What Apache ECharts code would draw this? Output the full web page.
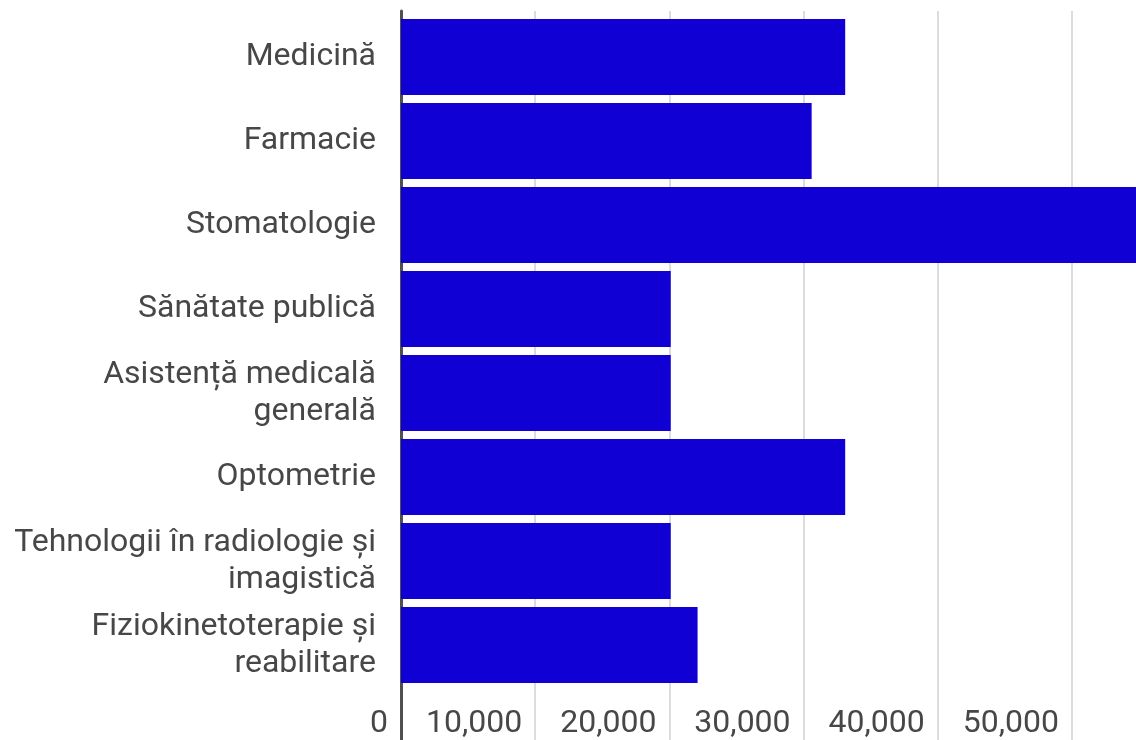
<!DOCTYPE html>
<html>
<head>
<meta charset="utf-8">
<script src="https://cdn.jsdelivr.net/npm/echarts@6/dist/echarts.min.js"></script>
<style>
  html, body { margin: 0; padding: 0; background: #fff; }
  #chart { width: 1136px; height: 740px; }
</style>
</head>
<body>
<div id="chart"></div>
<script>
// date
var categories = [
  'Medicină',
  'Farmacie',
  'Stomatologie',
  'Sănătate publică',
  'Asistență medicală generală',
  'Optometrie',
  'Tehnologii în radiologie și imagistică',
  'Fiziokinetoterapie și reabilitare'
];
var values = [33100, 30600, 58000, 20100, 20100, 33100, 20100, 22100];
var axisMax = 54770; // marginea din dreapta a imaginii
var tickStep = 10000;

var textColor = '#474747';
var labelFont = '32px Roboto';

// imparte eticheta pe randuri, fara spatii la capat
var ctx = document.createElement('canvas').getContext('2d');
ctx.font = labelFont;
function wrapLabel(text, maxW) {
  var words = text.split(' '), lines = [], cur = '';
  words.forEach(function (w) {
    var test = cur ? cur + ' ' + w : w;
    if (cur && ctx.measureText(test).width > maxW) {
      lines.push(cur);
      cur = w;
    } else {
      cur = test;
    }
  });
  if (cur) lines.push(cur);
  return lines.join('\n');
}

var chart = echarts.init(document.getElementById('chart'));

var option = {
  animation: false,
  textStyle: { fontFamily: 'Roboto' },
  grid: [
    // barele
    { left: 401, right: 0, top: 15, height: 672 },
    // linii de grila, etichete si axa
    { left: 401, right: 0, top: 11, bottom: 0 }
  ],
  xAxis: [
    { gridIndex: 0, type: 'value', min: 0, max: axisMax, show: false },
    {
      gridIndex: 1, type: 'value', min: 0, max: axisMax, interval: tickStep,
      axisLine: { show: false },
      axisTick: { show: false },
      splitLine: { show: true, showMaxLine: false, lineStyle: { color: '#dcdcdc', width: 2 } },
      axisLabel: {
        inside: true,
        margin: 16,
        align: 'right',
        verticalAlign: 'middle',
        padding: [0, 13, 0, 0],
        showMaxLabel: false,
        fontSize: 32,
        color: textColor,
        formatter: function (v) { return v.toLocaleString('en-US'); }
      }
    }
  ],
  yAxis: [
    {
      gridIndex: 0, type: 'category', inverse: true, data: categories,
      axisLine: { show: false },
      axisTick: { show: false },
      axisLabel: {
        fontSize: 32,
        lineHeight: 37,
        color: textColor,
        margin: 25,
        formatter: function (v) { return wrapLabel(v, 370); }
      }
    },
    {
      gridIndex: 1, type: 'value', min: 0, max: 1,
      axisLine: { show: true, lineStyle: { color: '#505050', width: 3 } },
      axisTick: { show: false },
      axisLabel: { show: false },
      splitLine: { show: false }
    }
  ],
  series: [{
    type: 'bar',
    xAxisIndex: 0,
    yAxisIndex: 0,
    data: values,
    barCategoryGap: '9.5%',
    clip: true,
    itemStyle: { color: '#1000d4' }
  }]
};
chart.setOption(option);
</script>
</body>
</html>
